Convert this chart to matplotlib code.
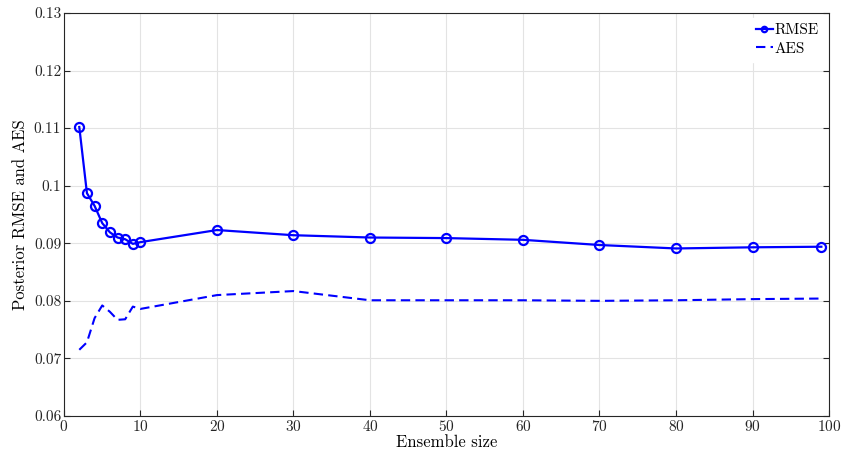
"""Posterior RMSE and AES versus ensemble size."""
import matplotlib

matplotlib.use("Agg")
import matplotlib.pyplot as plt

plt.rcParams["font.family"] = "serif"
plt.rcParams["font.serif"] = ["cmr10", "DejaVu Serif"]
plt.rcParams["mathtext.fontset"] = "cm"
plt.rcParams["axes.formatter.use_mathtext"] = True

ensemble_size = [2, 3, 4, 5, 6, 7, 8, 9, 10, 20, 30, 40, 50, 60, 70, 80, 90, 99]
rmse = [0.1102, 0.0987, 0.0965, 0.0935, 0.0919, 0.0910, 0.0907, 0.0899, 0.0902,
        0.0923, 0.0914, 0.0910, 0.0909, 0.0906, 0.0897, 0.0891, 0.0893, 0.0894]
aes = [0.0715, 0.0728, 0.0770, 0.0792, 0.0781, 0.0767, 0.0768, 0.0790, 0.0786,
       0.0810, 0.0817, 0.0801, 0.0801, 0.0801, 0.0800, 0.0801, 0.0803, 0.0804]

x_ticks = [0, 10, 20, 30, 40, 50, 60, 70, 80, 90, 100]
y_ticks = [0.06, 0.07, 0.08, 0.09, 0.10, 0.11, 0.12, 0.13]
y_tick_labels = ["0.06", "0.07", "0.08", "0.09", "0.1", "0.11", "0.12", "0.13"]

fig = plt.figure(figsize=(8.43, 4.59), dpi=100)
ax = fig.add_axes([0.0759, 0.0937, 0.9075, 0.878])

ax.plot(ensemble_size, rmse, "-o", color="#0000ff", lw=1.6, ms=6.5,
        mfc="none", mew=1.6, label="RMSE")
ax.plot(ensemble_size, aes, "--", color="#0000ff", lw=1.5, dashes=(4.5, 2.5),
        label="AES")

ax.set_xlim(0, 100)
ax.set_ylim(0.06, 0.13)
ax.set_xticks(x_ticks)
ax.set_yticks(y_ticks)
ax.set_yticklabels(y_tick_labels)
ax.grid(True, color="#e3e3e3", lw=0.8)
ax.set_axisbelow(True)
ax.tick_params(direction="in", length=4, width=0.8, colors="#262626",
               labelsize=11, top=False, right=True, pad=2)
for side in ax.spines.values():
    side.set_color("#262626")
    side.set_linewidth(0.8)

ax.set_xlabel("Ensemble size", fontsize=12, labelpad=1)
ax.set_ylabel("Posterior RMSE and AES", fontsize=12, labelpad=4)

leg = ax.legend(loc="upper right", frameon=True, fontsize=11, handlelength=1.1,
                handletextpad=0.1, borderaxespad=0.3, labelspacing=0.3,
                markerscale=0.6, fancybox=False)
leg.get_frame().set_edgecolor("white")
leg.get_frame().set_facecolor("white")
leg.get_frame().set_alpha(1.0)

fig.savefig("out.png", dpi=100)
